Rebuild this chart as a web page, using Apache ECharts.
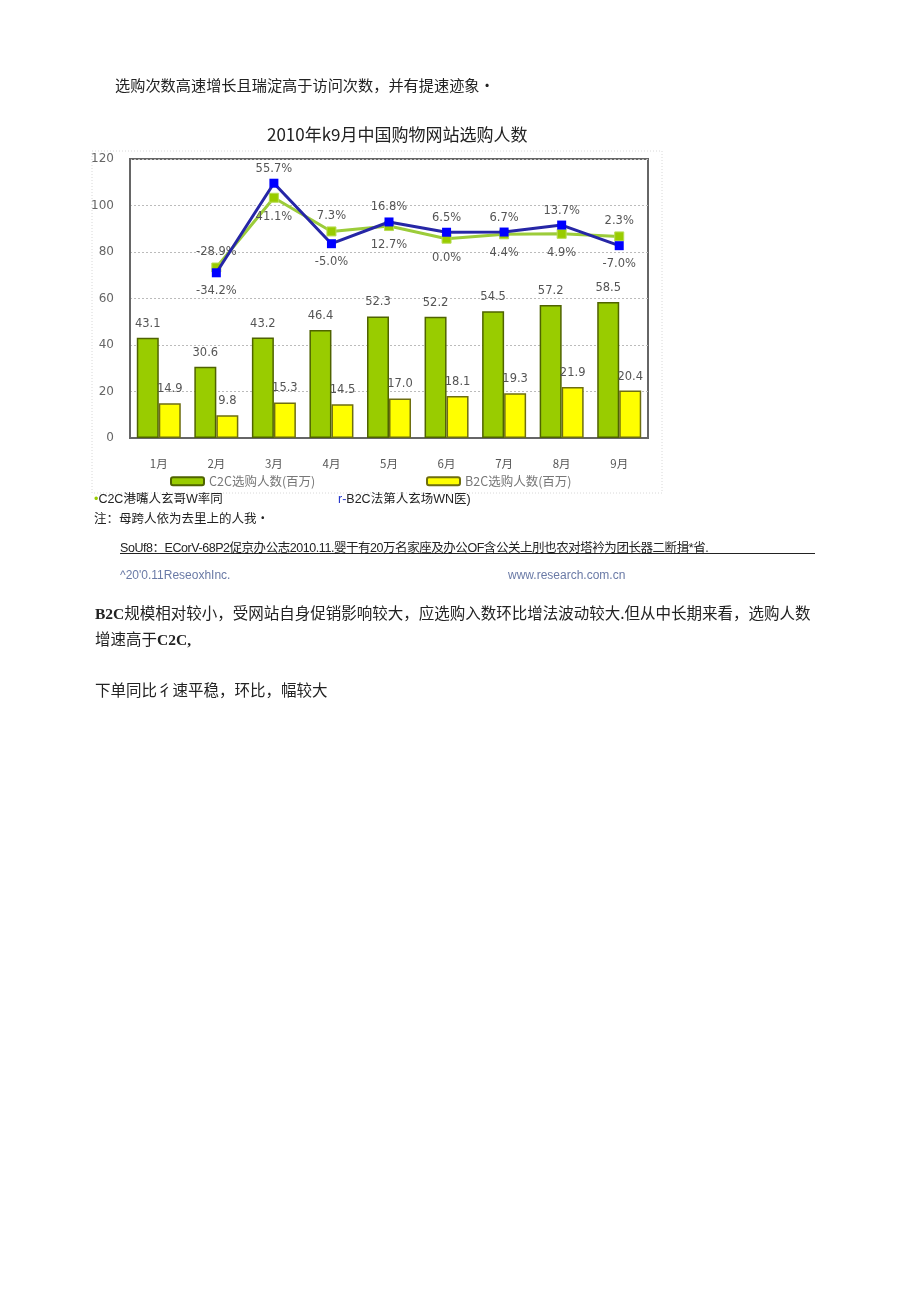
<!DOCTYPE html>
<html>
<head>
<meta charset="utf-8">
<script src="https://cdn.jsdelivr.net/npm/echarts@6/dist/echarts.min.js"></script>
<style>
  html, body { margin: 0; padding: 0; background: #fff; }
  #page { position: relative; width: 920px; height: 1301px; overflow: hidden; }
  #chart { position: absolute; left: 0; top: 0; width: 920px; height: 1301px; }
  .t { position: absolute; white-space: nowrap; font-family: "Noto Sans CJK SC", "DejaVu Sans", sans-serif; color: #222; }
</style>
</head>
<body>
<div id="page">
  <div id="chart"></div>
  <div class="t" style="left:115px; top:73px; font-size:15.2px;">选购次数高速增长且瑞淀高于访问次数，并有提速迹象•</div>
  <div class="t" style="left:94px; top:488px; font-size:12.5px; font-family:'Liberation Sans','Noto Sans CJK SC',sans-serif;"><span style="color:#99cc00">•</span>C2C港嘴人玄哥W率同</div>
  <div class="t" style="left:338px; top:488px; font-size:12.5px; font-family:'Liberation Sans','Noto Sans CJK SC',sans-serif;"><span style="color:#2233cc">r-</span>B2C法第人玄场WN医)</div>
  <div class="t" style="left:94px; top:508px; font-size:12.5px;">注：母跨人依为去里上的人我·</div>
  <div class="t" style="left:120px; top:537px; font-size:12.5px; letter-spacing:-0.45px; font-family:'Liberation Sans','Noto Sans CJK SC',sans-serif;">SoUf8：ECorV-68P2促京办公志2010.11.婴干有20万名家座及办公OF含公关上刖也农对塔衿为团长器二断揖*省.</div>
  <div style="position:absolute; left:120px; top:553px; width:695px; height:1px; background:#222;"></div>
  <div class="t" style="left:120px; top:568px; font-size:12px; color:#6a7aa6; font-family:'Liberation Sans',sans-serif;">^20'0.11ReseoxhInc.</div>
  <div class="t" style="left:508px; top:568px; font-size:12px; color:#6a7aa6; font-family:'Liberation Sans',sans-serif;">www.research.com.cn</div>
  <div class="t" style="left:95px; top:601px; font-size:15.5px;"><b style="font-family:'Liberation Serif',serif;">B2C</b>规模相对较小，受网站自身促销影响较大，应选购入数环比增法波动较大.但从中长期来看，选购人数</div>
  <div class="t" style="left:95px; top:627px; font-size:15.5px;">增速高于<b style="font-family:'Liberation Serif',serif;">C2C,</b></div>
  <div class="t" style="left:95px; top:678px; font-size:15.5px;">下单同比彳速平稳，环比，幅较大</div>
</div>
<script>
// ---- data ----
const categories = ['1月', '2月', '3月', '4月', '5月', '6月', '7月', '8月', '9月'];
const c2cUsers = [43.1, 30.6, 43.2, 46.4, 52.3, 52.2, 54.5, 57.2, 58.5];
const b2cUsers = [14.9, 9.8, 15.3, 14.5, 17.0, 18.1, 19.3, 21.9, 20.4];
const c2cGrowth = [null, -28.9, 41.1, 7.3, 12.7, 0.0, 4.4, 4.9, 2.3];
const b2cGrowth = [null, -34.2, 55.7, -5.0, 16.8, 6.5, 6.7, 13.7, -7.0];
const yTicks = [0, 20, 40, 60, 80, 100, 120];

const chart = echarts.init(document.getElementById('chart'), null, { renderer: 'canvas' });

const labelFont = { fontSize: 11.5, color: '#555', fontFamily: 'DejaVu Sans' };

function growthData(own, other) {
  return own.map((v, i) => {
    if (v === null) return null;
    const above = v >= other[i];
    return { value: v, label: { position: above ? 'top' : 'bottom', distance: above ? 4 : 8 } };
  });
}

const option = {
  animation: false,
  title: {
    text: '2010年k9月中国购物网站选购人数',
    left: 262, top: 121,
    textStyle: { fontSize: 17, fontWeight: 'normal', color: '#222', fontFamily: 'Noto Sans CJK SC' }
  },
  legend: [
    { data: ['C2C选购人数(百万)'], left: 165, top: 470, itemWidth: 33, itemHeight: 8, itemGap: 4,
      textStyle: { fontSize: 12.5, color: '#777', fontFamily: 'Noto Sans CJK SC' } },
    { data: ['B2C选购人数(百万)'], left: 421, top: 470, itemWidth: 33, itemHeight: 8, itemGap: 4,
      textStyle: { fontSize: 12.5, color: '#777', fontFamily: 'Noto Sans CJK SC' } }
  ],
  grid: {
    left: 130, top: 159, width: 518, height: 279,
    show: true, borderColor: '#666', borderWidth: 2, backgroundColor: '#fff'
  },
  graphic: [{
    type: 'rect', shape: { x: 92, y: 151, width: 570, height: 342 },
    style: { fill: 'none', stroke: '#d8d8d8', lineWidth: 1, lineDash: [1, 2] }, z: -1
  }],
  xAxis: {
    type: 'category', data: categories,
    axisLine: { show: true, lineStyle: { color: '#666', width: 2 } },
    axisTick: { show: false },
    axisLabel: { margin: 20, fontSize: 11.5, color: '#555', fontFamily: 'Noto Sans CJK SC' }
  },
  yAxis: [{
    type: 'value', min: yTicks[0], max: yTicks[yTicks.length - 1], interval: 20,
    axisLine: { show: true, lineStyle: { color: '#666', width: 2 } },
    axisTick: { show: false },
    axisLabel: { margin: 16, fontSize: 12, color: '#666', fontFamily: 'DejaVu Sans' },
    splitLine: { show: true, lineStyle: { color: '#bbb', type: [2, 2], width: 1 } }
  }, {
    type: 'value', min: -200, max: 80, show: false,
    splitLine: { show: false }
  }],
  series: [
    {
      name: 'C2C选购人数(百万)', type: 'bar', data: c2cUsers,
      barWidth: 22, barGap: '0%',
      itemStyle: { color: '#99cc00', borderColor: '#4f6300', borderWidth: 1.5 },
      label: { show: true, position: 'top', distance: 8, formatter: p => p.value.toFixed(1), ...labelFont }
    },
    {
      name: 'B2C选购人数(百万)', type: 'bar', data: b2cUsers,
      barWidth: 22, barGap: '0%',
      itemStyle: { color: '#ffff00', borderColor: '#6e6e10', borderWidth: 1.5 },
      label: { show: true, position: 'top', distance: 8, formatter: p => p.value.toFixed(1), ...labelFont }
    },
    {
      name: 'C2C选购人数环比增长', type: 'line', yAxisIndex: 1,
      data: growthData(c2cGrowth, b2cGrowth),
      symbol: 'rect', symbolSize: 9, z: 3,
      lineStyle: { color: '#9ccc3a', width: 3 },
      itemStyle: { color: '#99cc00', borderColor: '#b8dc55', borderWidth: 1 },
      label: { show: true, formatter: p => p.value.toFixed(1) + '%', ...labelFont }
    },
    {
      name: 'B2C选购人数环比增长', type: 'line', yAxisIndex: 1,
      data: growthData(b2cGrowth, c2cGrowth),
      symbol: 'rect', symbolSize: 9, z: 4,
      lineStyle: { color: '#2626a6', width: 3 },
      itemStyle: { color: '#0000ff' },
      label: { show: true, formatter: p => p.value.toFixed(1) + '%', ...labelFont }
    }
  ]
};
chart.setOption(option);
</script>
</body>
</html>
